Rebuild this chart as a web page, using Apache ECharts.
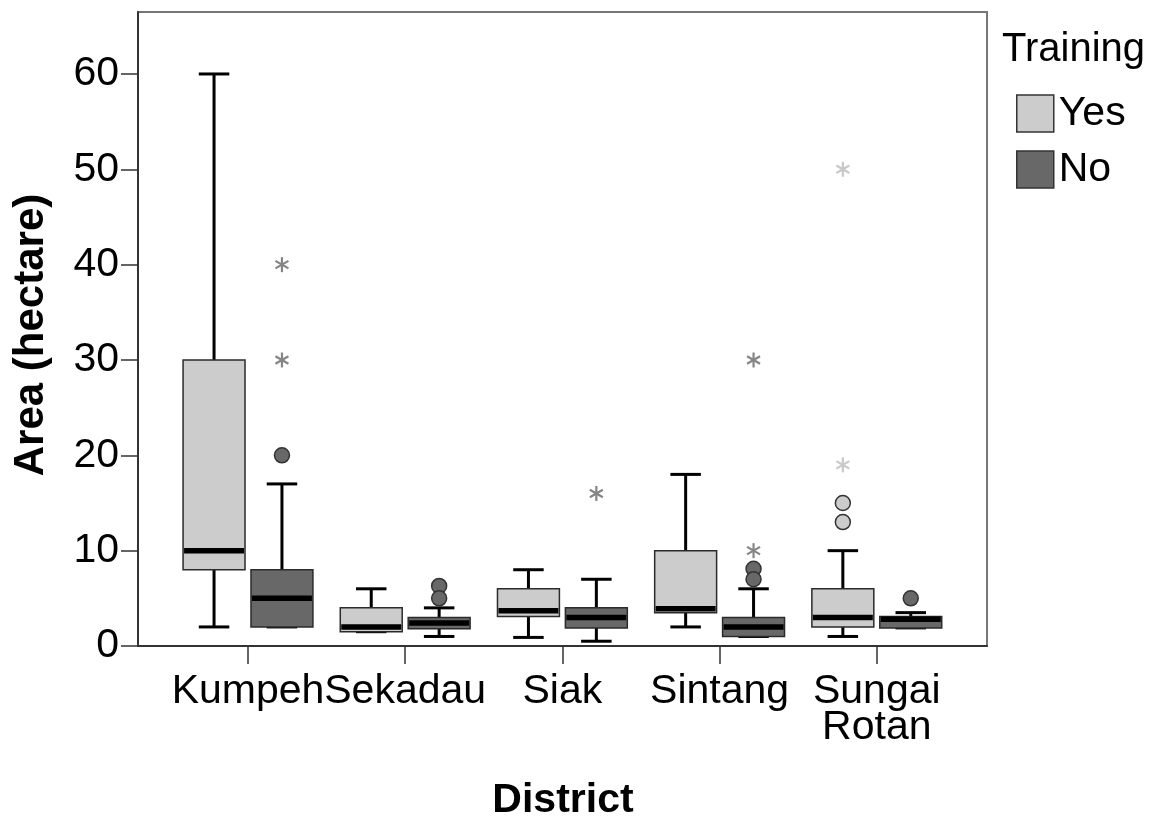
<!DOCTYPE html>
<html><head><meta charset="utf-8">
<script src="https://cdn.jsdelivr.net/npm/echarts@6/dist/echarts.min.js"></script>
<style>html,body{margin:0;padding:0;background:#fff}#c{width:1150px;height:818px}</style>
</head><body><div id="c"></div>
<script>
const districts = ['Kumpeh', 'Sekadau', 'Siak', 'Sintang', 'Sungai Rotan'];
const yTicks = [0, 10, 20, 30, 40, 50, 60];
// [min, Q1, median, Q3, max] per district
const yesBoxes = [[2, 8, 10, 30, 60], [1.5, 1.5, 2, 4, 6], [0.9, 3.1, 3.7, 6, 8], [2, 3.5, 3.9, 10, 18], [1, 2, 3, 6, 10]];
const noBoxes = [[2, 2, 5, 8, 17], [1, 1.8, 2.4, 3, 4], [0.5, 1.9, 3, 4, 7], [1, 1, 2, 3, 6], [1.9, 1.9, 2.8, 3.1, 3.5]];
// outliers: [district index, value]
const yesCircles = [[4, 15], [4, 13]];
const yesStars = [[4, 50], [4, 19]];
const noCircles = [[0, 20], [1, 6.3], [1, 5], [3, 8.1], [3, 7], [4, 5]];
const noStars = [[0, 40], [0, 30], [2, 16], [3, 30], [3, 10]];

const FONT = '"Liberation Sans", Arial, sans-serif';
const YES_FILL = '#cccccc', NO_FILL = '#686868';
const Y_MAX = 66.5;
const OFF = 0.216;

function boxRenderer(side, fill) {
  return function (params, api) {
    const i = api.value(0);
    const band = api.size([1, 0])[0];
    const cx = api.coord([i, 0])[0] + side * band * OFF;
    const y = k => api.coord([i, api.value(k)])[1];
    const yMin = y(1), yQ1 = y(2), yMed = y(3), yQ3 = y(4), yMax = y(5);
    const hw = band * 0.197, cw = band * 0.097;
    const ws = { stroke: '#000', lineWidth: 3 };
    return { type: 'group', children: [
      { type: 'line', shape: { x1: cx, y1: yMax, x2: cx, y2: yQ3 }, style: ws },
      { type: 'line', shape: { x1: cx, y1: yQ1, x2: cx, y2: yMin }, style: ws },
      { type: 'line', shape: { x1: cx - cw, y1: yMax, x2: cx + cw, y2: yMax }, style: ws },
      { type: 'line', shape: { x1: cx - cw, y1: yMin, x2: cx + cw, y2: yMin }, style: ws },
      { type: 'rect', shape: { x: cx - hw, y: yQ3, width: 2 * hw, height: yQ1 - yQ3 }, style: { fill: fill, stroke: '#2b2b2b', lineWidth: 1.5 } },
      { type: 'line', shape: { x1: cx - hw + 1, y1: yMed, x2: cx + hw - 1, y2: yMed }, style: { stroke: '#000', lineWidth: 5.5 } }
    ] };
  };
}
function circleRenderer(side, fill) {
  return function (params, api) {
    const band = api.size([1, 0])[0];
    const p = api.coord([api.value(0), api.value(1)]);
    return { type: 'circle', shape: { cx: p[0] + side * band * OFF, cy: p[1], r: 7.5 }, style: { fill: fill, stroke: '#333', lineWidth: 1.5 } };
  };
}
function starRenderer(side, color) {
  return function (params, api) {
    const band = api.size([1, 0])[0];
    const p = api.coord([api.value(0), api.value(1)]);
    const cx = p[0] + side * band * OFF, cy = p[1], r = 7.5;
    const st = { stroke: color, lineWidth: 2.2 };
    const kids = [];
    for (let k = 0; k < 3; k++) {
      const a = Math.PI / 2 + k * Math.PI / 3;
      kids.push({ type: 'line', shape: { x1: cx - r * Math.cos(a), y1: cy - r * Math.sin(a), x2: cx + r * Math.cos(a), y2: cy + r * Math.sin(a) }, style: st });
    }
    return { type: 'group', children: kids };
  };
}
function custom(name, data, renderItem, dims) {
  return { type: 'custom', name: name, xAxisIndex: 1, yAxisIndex: 1, data: data, renderItem: renderItem,
    encode: { x: 0, y: dims }, itemStyle: { color: name === 'Yes' ? YES_FILL : NO_FILL }, silent: true, animation: false };
}

const chart = echarts.init(document.getElementById('c'), null, { renderer: 'canvas' });
chart.setOption({
  animation: false,
  backgroundColor: '#fff',
  grid: [
    { left: 138, top: 12, right: 163, bottom: 172, show: true, borderColor: '#777', borderWidth: 2, backgroundColor: 'transparent' },
    { left: 169.4, top: 12, right: 194.6, bottom: 172 }
  ],
  xAxis: [
    { type: 'value', gridIndex: 0, min: 0, max: 1, axisLine: { show: true, lineStyle: { color: '#333', width: 2 } }, axisTick: { show: false }, axisLabel: { show: false }, splitLine: { show: false } },
    { type: 'category', gridIndex: 1, data: districts, axisLine: { show: false },
      axisTick: { show: true, alignWithLabel: true, length: 18, lineStyle: { color: '#333', width: 1.5 } },
      axisLabel: { margin: 28, fontSize: 41, fontFamily: FONT, color: '#000', lineHeight: 36, interval: 0,
        formatter: v => v.replace(' ', '\n') },
      splitLine: { show: false } }
  ],
  yAxis: [
    { type: 'value', gridIndex: 0, min: 0, max: Y_MAX,
      axisLine: { show: true, lineStyle: { color: '#333', width: 2 } },
      axisTick: { show: true, length: 17, customValues: yTicks, lineStyle: { color: '#333', width: 1.5 } },
      axisLabel: { margin: 19, fontSize: 41, fontFamily: FONT, color: '#000', customValues: yTicks },
      splitLine: { show: false } },
    { type: 'value', gridIndex: 1, min: 0, max: Y_MAX, show: false, splitLine: { show: false } }
  ],
  legend: {
    orient: 'vertical', left: 1016, top: 93, itemWidth: 37, itemHeight: 37, itemGap: 15, padding: 0,
    selectedMode: false,
    textStyle: { fontSize: 41, fontFamily: FONT, color: '#000' },
    data: [
      { name: 'Yes', icon: 'rect', itemStyle: { color: YES_FILL, borderColor: '#333', borderWidth: 1.5 } },
      { name: 'No', icon: 'rect', itemStyle: { color: NO_FILL, borderColor: '#333', borderWidth: 1.5 } }
    ]
  },
  graphic: [
    { type: 'text', x: 1002, y: 50, style: { text: 'Training', font: '40px ' + FONT, fill: '#000', textAlign: 'left', textVerticalAlign: 'middle' } },
    { type: 'text', x: 31, y: 335, rotation: Math.PI / 2, style: { text: 'Area (hectare)', font: 'bold 42px ' + FONT, fill: '#000', textAlign: 'center', textVerticalAlign: 'middle' } },
    { type: 'text', x: 563, y: 801, style: { text: 'District', font: 'bold 41px ' + FONT, fill: '#000', textAlign: 'center', textVerticalAlign: 'middle' } }
  ],
  series: [
    custom('Yes', yesBoxes.map((b, i) => [i].concat(b)), boxRenderer(-1, YES_FILL), [1, 2, 3, 4, 5]),
    custom('No', noBoxes.map((b, i) => [i].concat(b)), boxRenderer(1, NO_FILL), [1, 2, 3, 4, 5]),
    custom('Yes', yesCircles, circleRenderer(-1, YES_FILL), [1]),
    custom('Yes', yesStars, starRenderer(-1, '#c8c8c8'), [1]),
    custom('No', noCircles, circleRenderer(1, NO_FILL), [1]),
    custom('No', noStars, starRenderer(1, '#858585'), [1])
  ]
});
</script></body></html>
